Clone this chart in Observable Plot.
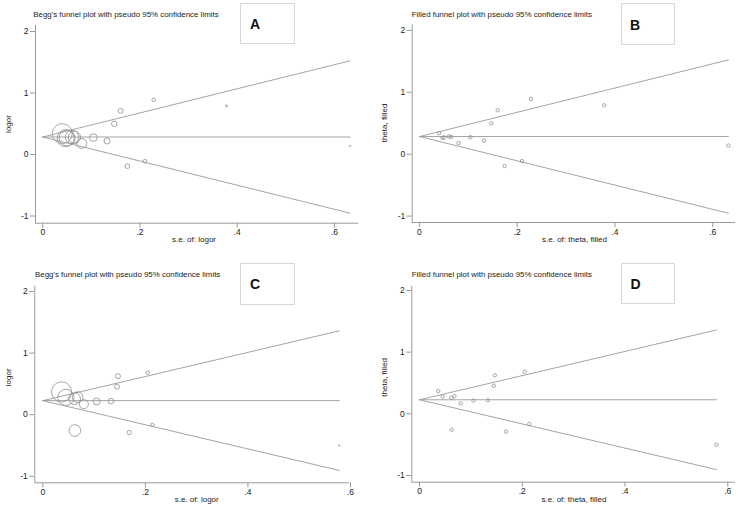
<!DOCTYPE html>
<html>
<head>
<meta charset="utf-8">
<script src="https://cdn.jsdelivr.net/npm/d3@7"></script>
<script src="https://cdn.jsdelivr.net/npm/@observablehq/plot@0.6"></script>
<style>
  html, body { margin: 0; padding: 0; background: #fff; }
  #wrap { position: relative; width: 738px; height: 507px; background: #fff; overflow: hidden; }
  .panel { position: absolute; }
  .panel > svg.plot { position: absolute; left: 0; top: 0; }
  .overlay { position: absolute; left: 0; top: 0; pointer-events: none; }
  .box { position: absolute; background: #fff; border: 1px solid #d8d8d8; box-sizing: border-box; }
</style>
</head>
<body>
<div id="wrap"></div>
<script>
// ---------- data ----------
// Panel A / B : original analysis (Begg's / filled funnel, no filled studies)
const seA    = [0.040, 0.047, 0.050, 0.060, 0.065, 0.080, 0.104, 0.132, 0.147, 0.160, 0.174, 0.210, 0.228, 0.378, 0.632];
const logorA = [0.340, 0.265, 0.270, 0.285, 0.280, 0.180, 0.275, 0.220, 0.500, 0.710, -0.190, -0.110, 0.890, 0.790, 0.140];
const pooledA = 0.285;

// Panel C / D : second analysis
const seC    = [0.0365, 0.045, 0.062, 0.068, 0.080, 0.105, 0.133, 0.1445, 0.1466, 0.2045, 0.0625, 0.1685, 0.2137, 0.578];
const logorC = [0.370, 0.280, 0.260, 0.285, 0.170, 0.215, 0.220, 0.455, 0.625, 0.683, -0.258, -0.290, -0.165, -0.500];
const pooledC = 0.228;

const yTicks = [-1, 0, 1, 2];
const xTicks = [0, 0.2, 0.4, 0.6];
const xTickLabels = ["0", ".2", ".4", ".6"];

const titleBegg = "Begg's funnel plot with pseudo 95% confidence limits";
const titleFilled = "Filled funnel plot with pseudo 95% confidence limits";
const panelLetters = ["A", "B", "C", "D"];

// ---------- layout ----------
const FONT = "'Liberation Sans', Arial, Helvetica, sans-serif";
const GRAY = "#9a9a9a";

const panels = [
  { letter: "A", left: 0,   top: 0,   w: 369, h: 254, se: seA, eff: logorA, pooled: pooledA, weighted: true,
    m: [25, 10.7, 31.3, 35], xd: [-0.015, 0.650], yd: [-1.117, 2.098],
    title: titleBegg, tx: 33.3, ty: 17.3, ylab: "logor", ylx: 8.5, yly: 124, xlab: "s.e. of: logor", xlx: 194, xly: 241.5,
    box: [240, 2.7, 55, 41.3], lx: 250, ly: 28.5 },
  { letter: "B", left: 369, top: 0,   w: 369, h: 254, se: seA, eff: logorA, pooled: pooledA, weighted: false,
    m: [24.3, 3, 32, 42.7], xd: [-0.0149, 0.6465], yd: [-1.103, 2.09],
    title: titleFilled, tx: 42.7, ty: 17.0, ylab: "theta, filled", ylx: 15.5, yly: 123, xlab: "s.e. of: theta, filled", xlx: 205.5, xly: 241.5,
    box: [251.7, 3.3, 54, 41.7], lx: 261, ly: 30 },
  { letter: "C", left: 0,   top: 254, w: 369, h: 253, se: seC, eff: logorC, pooled: pooledC, weighted: true,
    m: [31.7, 20, 24.7, 34.3], xd: [-0.0156, 0.598], yd: [-1.106, 2.086],
    title: titleBegg, tx: 35, ty: 22.5, ylab: "logor", ylx: 8.5, yly: 123.3, xlab: "s.e. of: logor", xlx: 196.7, xly: 247.5,
    box: [240, 9.3, 55, 41.4], lx: 250, ly: 35 },
  { letter: "D", left: 369, top: 254, w: 369, h: 253, se: seC, eff: logorC, pooled: pooledC, weighted: false,
    m: [31.7, 3, 25.3, 42.3], xd: [-0.015, 0.615], yd: [-1.109, 2.07],
    title: titleFilled, tx: 42.7, ty: 22.5, ylab: "theta, filled", ylx: 15.5, yly: 123.3, xlab: "s.e. of: theta, filled", xlx: 205, xly: 247.5,
    box: [251.7, 9.3, 54, 40.7], lx: 261.5, ly: 35 }
];

const wrap = document.getElementById("wrap");

for (const p of panels) {
  const data = p.se.map((s, i) => ({ se: s, eff: p.eff[i], w: 1 / (s * s) }));
  const seMax = d3.max(p.se);
  const upper = [{ se: 0, v: p.pooled }, { se: seMax, v: p.pooled + 1.96 * seMax }];
  const lower = [{ se: 0, v: p.pooled }, { se: seMax, v: p.pooled - 1.96 * seMax }];
  const mid   = [{ se: 0, v: p.pooled }, { se: seMax, v: p.pooled }];
  const maxW = d3.max(data, d => d.w);

  const dotOpts = p.weighted
    ? { x: "se", y: "eff", r: "w", stroke: "#8f8f8f", strokeWidth: 0.8, fill: "none" }
    : { x: "se", y: "eff", r: 1.7, stroke: "#8f8f8f", strokeWidth: 0.8, fill: "none" };

  const svg = Plot.plot({
    width: p.w, height: p.h,
    marginTop: p.m[0], marginRight: p.m[1], marginBottom: p.m[2], marginLeft: p.m[3],
    x: { domain: p.xd },
    y: { domain: p.yd },
    r: { type: "sqrt", domain: [0, maxW], range: [0, 10] },
    style: { fontFamily: FONT, fontSize: "8.5px", color: "#222", background: "transparent", overflow: "visible" },
    marks: [
      Plot.axisY({ ticks: yTicks, tickFormat: d => String(d), tickSize: 5, tickPadding: 2, label: null, stroke: GRAY, fill: "#222" }),
      Plot.axisX({ ticks: xTicks, tickFormat: d => xTickLabels[xTicks.indexOf(d)], tickSize: 5, tickPadding: 1, label: null, stroke: GRAY, fill: "#222" }),
      Plot.ruleX([p.xd[0]], { stroke: GRAY, strokeWidth: 1 }),
      Plot.ruleY([p.yd[0]], { stroke: GRAY, strokeWidth: 1 }),
      Plot.line(mid,   { x: "se", y: "v", stroke: GRAY, strokeWidth: 0.9 }),
      Plot.line(upper, { x: "se", y: "v", stroke: GRAY, strokeWidth: 0.9 }),
      Plot.line(lower, { x: "se", y: "v", stroke: GRAY, strokeWidth: 0.9 }),
      Plot.dot(data, dotOpts)
    ]
  });
  svg.classList.add("plot");

  const div = document.createElement("div");
  div.className = "panel";
  div.style.left = p.left + "px";
  div.style.top = p.top + "px";
  div.style.width = p.w + "px";
  div.style.height = p.h + "px";
  div.appendChild(svg);

  // letter box
  const box = document.createElement("div");
  box.className = "box";
  box.style.left = p.box[0] + "px";
  box.style.top = p.box[1] + "px";
  box.style.width = p.box[2] + "px";
  box.style.height = p.box[3] + "px";
  div.appendChild(box);

  // text overlay (title, axis labels, panel letter)
  const ns = "http://www.w3.org/2000/svg";
  const ov = document.createElementNS(ns, "svg");
  ov.setAttribute("class", "overlay");
  ov.setAttribute("width", p.w);
  ov.setAttribute("height", p.h);
  ov.style.fontFamily = FONT;
  const addText = (str, x, y, attrs) => {
    const t = document.createElementNS(ns, "text");
    t.setAttribute("x", x); t.setAttribute("y", y);
    for (const k in attrs) t.setAttribute(k, attrs[k]);
    t.textContent = str;
    ov.appendChild(t);
    return t;
  };
  addText(p.title, p.tx, p.ty, { "font-size": 7.9, fill: "#222" });
  addText(p.xlab, p.xlx, p.xly, { "font-size": 8, fill: "#222", "text-anchor": "middle" });
  addText(p.ylab, 0, 0, { "font-size": 8, fill: "#222", "text-anchor": "middle",
    transform: `translate(${p.ylx},${p.yly}) rotate(-90)`, "dominant-baseline": "middle" });
  addText(p.letter, p.lx, p.ly, { "font-size": 14, "font-weight": "bold", fill: "#111" });
  div.appendChild(ov);

  wrap.appendChild(div);
}
</script>
</body>
</html>
